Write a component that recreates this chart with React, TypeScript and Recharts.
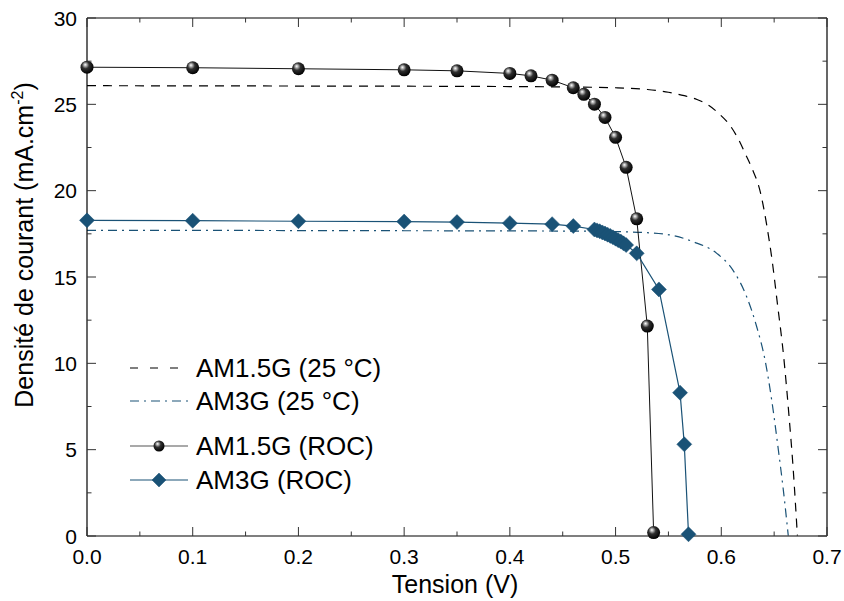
import React from 'react';
import { LineChart, Line, XAxis, YAxis, ReferenceLine, Legend } from 'recharts';

const W = 844;
const H = 601;
const PL = 87;
const PT = 18;
const PR = 827;
const PB = 536;
const FONT = '"Liberation Sans", Arial, Helvetica, sans-serif';
const BLUE = '#1a5276';

const xTicks = [0, 0.05, 0.1, 0.15, 0.2, 0.25, 0.3, 0.35, 0.4, 0.45, 0.5, 0.55, 0.6, 0.65, 0.7];
const yTicks = [0, 2.5, 5, 7.5, 10, 12.5, 15, 17.5, 20, 22.5, 25, 27.5, 30];

// AM1.5G (25 °C) simulated curve
const am15V = [0, 0.1, 0.2, 0.3, 0.4, 0.45, 0.5, 0.53, 0.55, 0.565, 0.577, 0.588, 0.598, 0.608, 0.616, 0.623, 0.629, 0.637, 0.643, 0.648, 0.653, 0.659, 0.664, 0.668, 0.672];
const am15J = [26.08, 26.07, 26.06, 26.05, 26.03, 26.01, 25.96, 25.86, 25.7, 25.5, 25.28, 24.95, 24.45, 23.8, 23.0, 22.1, 21.3, 19.9, 18.0, 16.0, 13.5, 10.4, 7.0, 3.9, 0];

// AM3G (25 °C) simulated curve
const am3V = [0, 0.1, 0.2, 0.3, 0.4, 0.45, 0.5, 0.5165, 0.548, 0.5735, 0.5957, 0.611, 0.624, 0.6335, 0.6414, 0.6477, 0.654, 0.6587, 0.6634];
const am3J = [17.7, 17.7, 17.69, 17.68, 17.67, 17.66, 17.63, 17.6, 17.47, 17.04, 16.37, 15.4, 13.86, 12.12, 10.19, 7.87, 4.98, 2.66, 0];

// AM1.5G (ROC) measured
const roc15V = [0, 0.1, 0.2, 0.3, 0.35, 0.4, 0.42, 0.44, 0.46, 0.47, 0.48, 0.49, 0.5, 0.51, 0.52, 0.53, 0.536];
const roc15J = [27.15, 27.12, 27.06, 27.0, 26.94, 26.79, 26.65, 26.4, 25.96, 25.58, 25.01, 24.24, 23.09, 21.35, 18.37, 12.16, 0.2];

// AM3G (ROC) measured
const roc3V = [0, 0.1, 0.2, 0.3, 0.35, 0.4, 0.44, 0.46, 0.48, 0.4825, 0.485, 0.4875, 0.49, 0.4925, 0.495, 0.4975, 0.5, 0.5025, 0.505, 0.5075, 0.51, 0.52, 0.541, 0.561, 0.565, 0.569];
const roc3J = [18.28, 18.26, 18.23, 18.21, 18.18, 18.12, 18.06, 17.95, 17.75, 17.7, 17.65, 17.58, 17.52, 17.45, 17.38, 17.3, 17.22, 17.13, 17.05, 16.95, 16.85, 16.37, 14.28, 8.3, 5.31, 0.1];

const zip = (vs: number[], js: number[]) => vs.map((v, i) => ({ v, j: js[i] }));

const am15Data = zip(am15V, am15J);
const am3Data = zip(am3V, am3J);
const roc15Data = zip(roc15V, roc15J);
const roc3Data = zip(roc3V, roc3J);

const Sphere = ({ cx, cy, r = 6.5 }: { cx: number; cy: number; r?: number }) => (
  <g>
    <defs>
      <radialGradient id="sphereGrad" cx="0.42" cy="0.38" r="0.62" fx="0.36" fy="0.3">
        <stop offset="0" stopColor="#ffffff" />
        <stop offset="0.18" stopColor="#b0b0b0" />
        <stop offset="0.45" stopColor="#303030" />
        <stop offset="1" stopColor="#000000" />
      </radialGradient>
    </defs>
    <circle cx={cx} cy={cy} r={r} fill="url(#sphereGrad)" />
  </g>
);

const Diamond = ({ cx, cy, s = 7.5 }: { cx: number; cy: number; s?: number }) => (
  <polygon
    points={`${cx},${cy - s} ${cx + s},${cy} ${cx},${cy + s} ${cx - s},${cy}`}
    fill={BLUE}
    stroke={BLUE}
    strokeWidth={0.5}
  />
);

const isMult = (v: number, step: number) => Math.abs(Math.round(v / step) * step - v) < 1e-6;

const XTick = (props: any) => {
  const { x, payload } = props;
  const v = payload.value as number;
  const major = isMult(v, 0.1);
  const len = major ? 9 : 4.5;
  return (
    <g>
      <line x1={x} y1={PB} x2={x} y2={PB - len} stroke="#333" strokeWidth={1} />
      <line x1={x} y1={PT} x2={x} y2={PT + len} stroke="#333" strokeWidth={1} />
      {major && (
        <text x={x} y={PB + 28} textAnchor="middle" fontSize={21} fontFamily={FONT} fill="#000">
          {v.toFixed(1)}
        </text>
      )}
    </g>
  );
};

const YTick = (props: any) => {
  const { y, payload } = props;
  const v = payload.value as number;
  const major = isMult(v, 5);
  const len = major ? 9 : 4.5;
  return (
    <g>
      <line x1={PL} y1={y} x2={PL + len} y2={y} stroke="#333" strokeWidth={1} />
      <line x1={PR} y1={y} x2={PR - len} y2={y} stroke="#333" strokeWidth={1} />
      {major && (
        <text x={PL - 10} y={y + 7.5} textAnchor="end" fontSize={21} fontFamily={FONT} fill="#000">
          {v}
        </text>
      )}
    </g>
  );
};

const XTitle = () => (
  <text x={455} y={593} textAnchor="middle" fontSize={25} fontFamily={FONT} fill="#000">
    Tension (V)
  </text>
);

const YTitle = () => (
  <text
    x={0}
    y={0}
    transform={`translate(33, 245) rotate(-90)`}
    textAnchor="middle"
    fontSize={25}
    fontFamily={FONT}
    fill="#000"
  >
    Densité de courant (mA.cm
    <tspan dy={-10} fontSize={16}>-2</tspan>
    <tspan dy={10} fontSize={25}>)</tspan>
  </text>
);

const legendItems = [
  { label: 'AM1.5G (25 °C)', y: 30, kind: 'dash' },
  { label: 'AM3G (25 °C)', y: 63, kind: 'dashdot' },
  { label: 'AM1.5G (ROC)', y: 108, kind: 'sphere' },
  { label: 'AM3G (ROC)', y: 142, kind: 'diamond' },
];

const LegendContent = () => (
  <svg width={320} height={165} style={{ display: 'block', overflow: 'visible' }}>
    {legendItems.map((it) => (
      <g key={it.label}>
        {it.kind === 'dash' && (
          <line x1={12} y1={it.y} x2={70} y2={it.y} stroke="#000" strokeWidth={1.2} strokeDasharray="8 12" />
        )}
        {it.kind === 'dashdot' && (
          <line x1={12} y1={it.y} x2={70} y2={it.y} stroke={BLUE} strokeWidth={1.2} strokeDasharray="9 5 2 5" />
        )}
        {it.kind === 'sphere' && (
          <g>
            <line x1={12} y1={it.y} x2={70} y2={it.y} stroke="#555" strokeWidth={1.2} />
            <Sphere cx={41} cy={it.y} r={5.5} />
          </g>
        )}
        {it.kind === 'diamond' && (
          <g>
            <line x1={12} y1={it.y} x2={70} y2={it.y} stroke={BLUE} strokeWidth={1.2} />
            <Diamond cx={41} cy={it.y} s={7} />
          </g>
        )}
        <text x={78} y={it.y + 9} fontSize={26} fontFamily={FONT} fill="#000">
          {it.label}
        </text>
      </g>
    ))}
  </svg>
);

export default function App() {
  return (
    <div style={{ position: 'absolute', left: 0, top: 0, width: W, height: H, background: '#fff' }}>
      <LineChart width={W} height={H} margin={{ top: PT, right: W - PR, left: 0, bottom: 0 }}>
        <XAxis
          dataKey="v"
          type="number"
          domain={[0, 0.7]}
          ticks={xTicks}
          interval={0}
          tickLine={false}
          tick={<XTick />}
          axisLine={{ stroke: '#555', strokeWidth: 1.5 }}
          height={H - PB}
          allowDuplicatedCategory={false}
          label={<XTitle />}
        />
        <YAxis
          type="number"
          domain={[0, 30]}
          ticks={yTicks}
          interval={0}
          tickLine={false}
          tick={<YTick />}
          axisLine={{ stroke: '#000', strokeWidth: 1.2 }}
          width={PL}
          label={<YTitle />}
        />
        <ReferenceLine y={30} stroke="#555" strokeWidth={1.5} />
        <ReferenceLine x={0.7} stroke="#000" strokeWidth={1.2} />
        <Line
          data={am15Data}
          dataKey="j"
          name="AM1.5G (25 °C)"
          type="monotone"
          stroke="#000"
          strokeWidth={1.2}
          strokeDasharray="9 7"
          dot={false}
          activeDot={false}
          isAnimationActive={false}
        />
        <Line
          data={am3Data}
          dataKey="j"
          name="AM3G (25 °C)"
          type="monotone"
          stroke={BLUE}
          strokeWidth={1.2}
          strokeDasharray="9 5 2 5"
          dot={false}
          activeDot={false}
          isAnimationActive={false}
        />
        <Line
          data={roc15Data}
          dataKey="j"
          name="AM1.5G (ROC)"
          type="linear"
          stroke="#111"
          strokeWidth={1}
          dot={(p: any) => <Sphere key={`s${p.index}`} cx={p.cx} cy={p.cy} />}
          activeDot={false}
          isAnimationActive={false}
        />
        <Line
          data={roc3Data}
          dataKey="j"
          name="AM3G (ROC)"
          type="linear"
          stroke={BLUE}
          strokeWidth={1.2}
          dot={(p: any) => <Diamond key={`d${p.index}`} cx={p.cx} cy={p.cy} />}
          activeDot={false}
          isAnimationActive={false}
        />
        <Legend
          layout="vertical"
          align="center"
          verticalAlign="middle"
          content={<LegendContent />}
          wrapperStyle={{ position: 'absolute', left: 118, top: 338, width: 320, height: 165 }}
        />
      </LineChart>
    </div>
  );
}
